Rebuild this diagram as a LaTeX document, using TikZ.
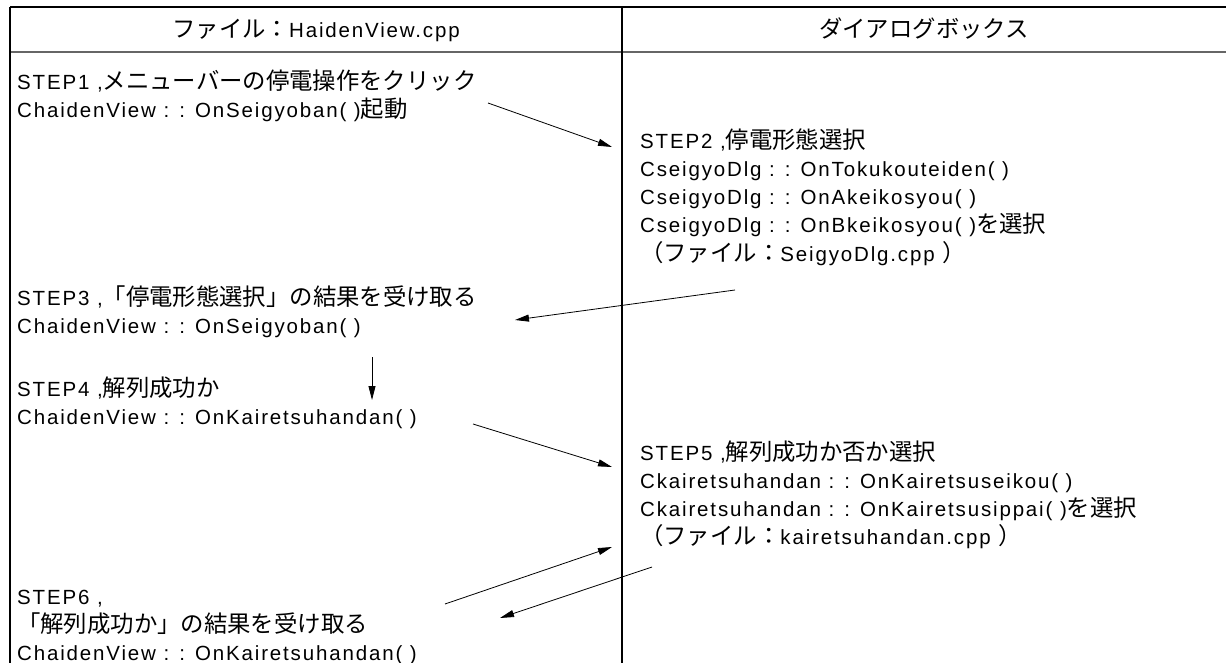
\documentclass[tikz,border=0pt]{standalone}
\usepackage{fontspec}
\setmainfont{Liberation Sans}[LetterSpace=9]
\newfontfamily\cjk{Noto Sans CJK JP}[Scale=1.14]
\usetikzlibrary{arrows.meta}
\newcommand\J[1]{{\cjk #1}}
\newcommand\fs{\fontsize{20.5}{28}\selectfont}
\tikzset{
  txt/.style={anchor=base west, inner sep=0pt, font=\fs},
  hdr/.style={anchor=base, inner sep=0pt, font=\fs},
  rule/.style={line width=1.2pt, black},
  hrule/.style={line width=2pt, black!60},
  vrule/.style={line width=1.2pt, black},
  arr/.style={line width=0.8pt, -{Triangle[length=14pt,width=7pt]}}
}
\begin{document}
\begin{tikzpicture}[x=1pt,y=-1pt]
\useasboundingbox (0,0) rectangle (1226,663);
% table lines
\draw[rule] (10,7) -- (1226,7);
\draw[hrule] (10,52) -- (1226,52);
\draw[vrule] (10,7) -- (10,663);
\draw[vrule] (622,7) -- (622,663);
% header
\node[hdr] (h1) at (316,38) {\J{ファイル：}HaidenView.cpp};
\node[hdr] (h2) at (924,38) {\J{ダイアログボックス}};
% left column
\node[txt] (s1a) at (17,90) {STEP1 ,\J{メニューバーの停電操作をクリック}};
\node[txt] (s1b) at (17,118) {ChaidenView : : OnSeigyoban( )\J{起動}};
\node[txt] (s3a) at (17,305) {STEP3 ,\J{「停電形態選択」の結果を受け取る}};
\node[txt] (s3b) at (17,333) {ChaidenView : : OnSeigyoban( )};
\node[txt] (s4a) at (17,396) {STEP4 ,\J{解列成功か}};
\node[txt] (s4b) at (17,424) {ChaidenView : : OnKairetsuhandan( )};
\node[txt] (s6a) at (17,604) {STEP6 ,};
\node[txt] (s6b) at (17,632) {\J{「解列成功か」の結果を受け取る}};
\node[txt] (s6c) at (17,660) {ChaidenView : : OnKairetsuhandan( )};
% right column
\node[txt] (s2a) at (640,149) {STEP2 ,\J{停電形態選択}};
\node[txt] (s2b) at (640,177) {CseigyoDlg : : OnTokukouteiden( )};
\node[txt] (s2c) at (640,205) {CseigyoDlg : : OnAkeikosyou( )};
\node[txt] (s2d) at (640,233) {CseigyoDlg : : OnBkeikosyou( )\J{を選択}};
\node[txt] (s2e) at (640,261) {\J{（ファイル：}SeigyoDlg.cpp \J{）}};
\node[txt] (s5a) at (640,460) {STEP5 ,\J{解列成功か否か選択}};
\node[txt] (s5b) at (640,488) {Ckairetsuhandan : : OnKairetsuseikou( )};
\node[txt] (s5c) at (640,516) {Ckairetsuhandan : : OnKairetsusippai( )\J{を選択}};
\node[txt] (s5d) at (640,544) {\J{（ファイル：}kairetsuhandan.cpp \J{）}};
% arrow end points
\coordinate (a1s) at (488,103);
\coordinate (a1e) at (612,147);
\coordinate (a2s) at (735,290);
\coordinate (a2e) at (515,320);
\coordinate (a3s) at (372,357);
\coordinate (a3e) at (372,400);
\coordinate (a4s) at (473,424);
\coordinate (a4e) at (612,467);
\coordinate (a5s) at (445,604);
\coordinate (a5e) at (612,547);
\coordinate (a6s) at (652,567);
\coordinate (a6e) at (500,618);
\draw[arr] (a1s) -- (a1e);
\draw[arr] (a2s) -- (a2e);
\draw[arr] (a3s) -- (a3e);
\draw[arr] (a4s) -- (a4e);
\draw[arr] (a5s) -- (a5e);
\draw[arr] (a6s) -- (a6e);
\end{tikzpicture}
\end{document}
